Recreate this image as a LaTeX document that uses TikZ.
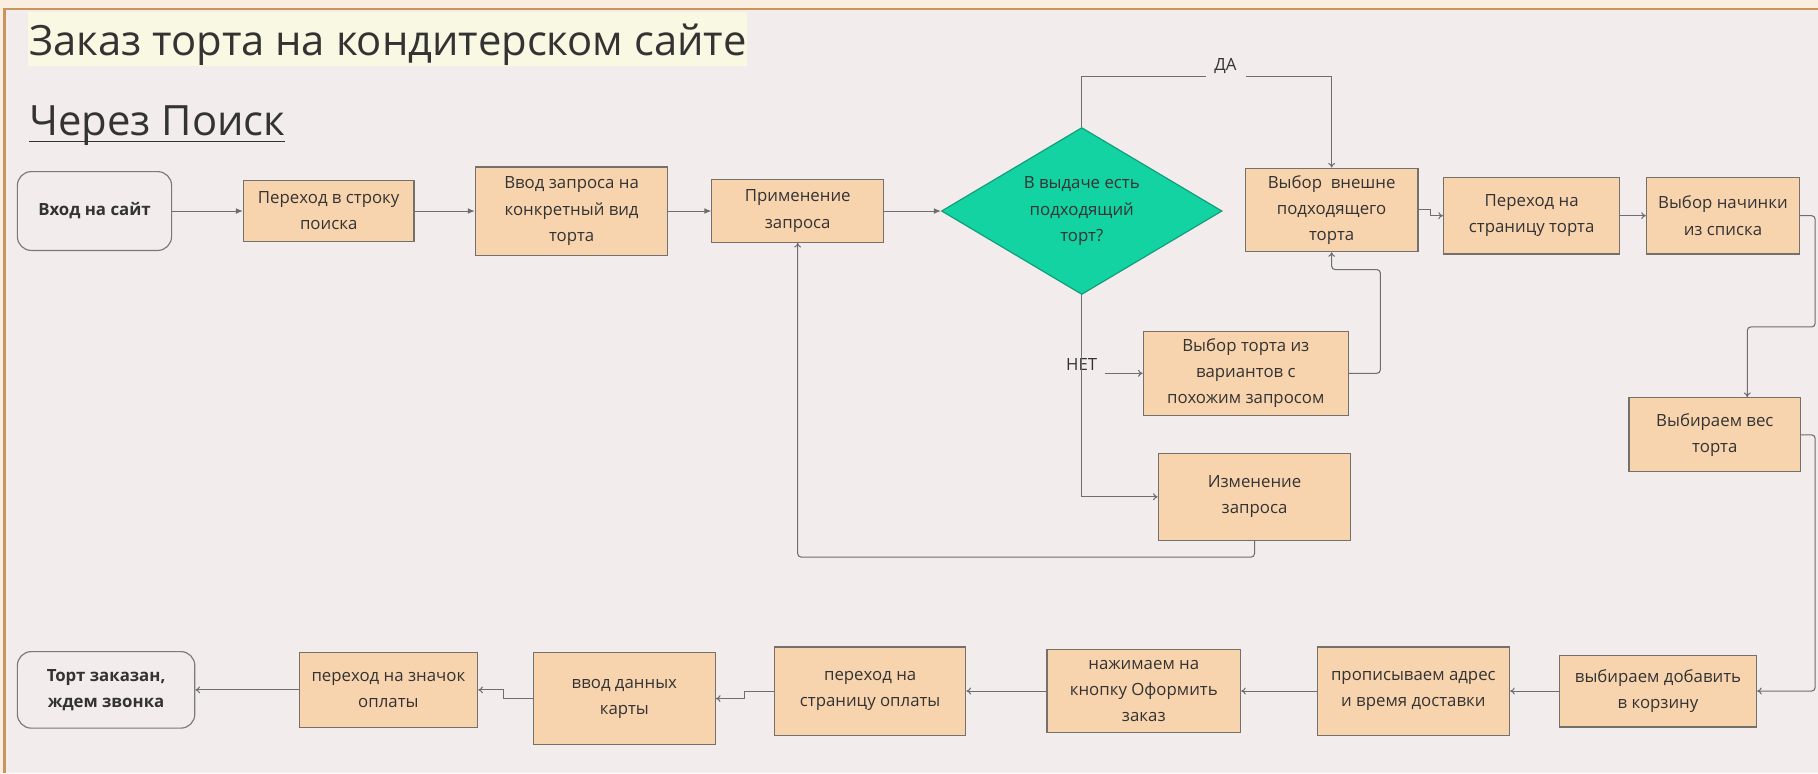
\documentclass[tikz,border=0pt]{standalone}
\usepackage{fontspec}
\setmainfont{Open Sans}
\usetikzlibrary{shapes.geometric,arrows.meta}

\definecolor{cream}{HTML}{FAEEE0}
\definecolor{canvas}{HTML}{F2ECEC}
\definecolor{framec}{HTML}{C8965C}
\definecolor{hilite}{HTML}{F9F8E3}
\definecolor{peach}{HTML}{F8D4AE}
\definecolor{boxline}{HTML}{74706C}
\definecolor{termline}{HTML}{7A7A7A}
\definecolor{mint}{HTML}{12D3A1}
\definecolor{mintline}{HTML}{0F9E79}
\definecolor{wire}{HTML}{6E6E6E}
\definecolor{ink}{HTML}{333333}

\newcommand\boxfont{\fontsize{14.5}{22.5}\selectfont}

\tikzset{
  box/.style={draw=boxline, line width=1pt, fill=peach, align=center, inner sep=2pt, text=ink, font=\boxfont},
  term/.style={draw=termline, line width=1pt, fill=canvas, rounded corners=12pt, align=center, text=ink, font=\boxfont\bfseries},
  conn/.style={draw=wire, line width=0.9pt, -{To[length=4pt,width=6pt]}},
  connf/.style={draw=wire, line width=0.9pt, -{Latex[length=6pt,width=5pt]}},
  plain/.style={draw=wire, line width=0.9pt},
}

\begin{document}
\begin{tikzpicture}[x=1pt,y=-1pt]
\useasboundingbox (0,0) rectangle (1568,667);
\fill[cream] (0,0) rectangle (1568,667);
\fill[canvas] (4,8) rectangle (1568,667);
\draw[framec, line width=2pt] (4,667) -- (4,8) -- (1568,8);

\fill[hilite] (24,10) rectangle (644,57);
\node[anchor=base west, inner sep=0pt, text=ink, font=\fontsize{36}{40}\selectfont] (title) at (25,48) {Заказ торта на кондитерском сайте};
\node[anchor=base west, inner sep=0pt, text=ink, font=\fontsize{36}{40}\selectfont] (sub) at (25,117) {Через Поиск};
\draw[ink, line width=1.6pt] ([yshift=-5pt]sub.base west) -- ([yshift=-5pt]sub.base east);

\node[term, minimum width=133pt, minimum height=68pt] (start) at (81.5,182) {Вход на сайт};
\node[box, minimum width=147pt, minimum height=52pt] (find) at (283.5,182) {Переход в строку\\поиска};
\node[box, minimum width=166pt, minimum height=76pt] (query) at (493,182) {Ввод запроса на\\конкретный вид\\торта};
\node[box, minimum width=148pt, minimum height=54pt] (apply) at (688,182) {Применение\\запроса};
\node[diamond, draw=mintline, line width=1pt, fill=mint, aspect=1.68, inner sep=0pt, minimum width=242pt, minimum height=144pt, align=center, text=ink, font=\boxfont] (dia) at (933,182) {В выдаче есть\\подходящий\\торт?};
\node[box, minimum width=149pt, minimum height=72pt] (look) at (1148.5,181) {Выбор~~внешне\\подходящего\\торта};
\node[box, minimum width=152pt, minimum height=66pt] (page) at (1321,186) {Переход на\\страницу торта};
\node[box, minimum width=132pt, minimum height=66pt] (fill) at (1486,186) {Выбор начинки\\из списка};
\node[box, minimum width=177pt, minimum height=72pt] (alike) at (1074.5,322) {Выбор торта из\\вариантов с\\похожим запросом};
\node[box, minimum width=166pt, minimum height=75pt] (change) at (1082,428.5) {Изменение\\запроса};
\node[box, minimum width=148pt, minimum height=64pt] (weight) at (1479,375) {Выбираем вес\\торта};

\node[box, minimum width=170pt, minimum height=62pt] (cart) at (1430,596) {выбираем добавить\\в корзину};
\node[box, minimum width=166pt, minimum height=76pt] (addr) at (1219,596) {прописываем адрес\\и время доставки};
\node[box, minimum width=167pt, minimum height=71pt] (order) at (986.5,596) {нажимаем на\\кнопку Оформить\\заказ};
\node[box, minimum width=165pt, minimum height=76pt] (paypage) at (750.5,596) {переход на\\страницу оплаты};
\node[box, minimum width=157pt, minimum height=79pt] (card) at (538.5,602.5) {ввод данных\\карты};
\node[box, minimum width=154pt, minimum height=65pt] (payicon) at (335,595) {переход на значок\\оплаты};
\node[term, minimum width=153pt, minimum height=66pt] (done) at (91.5,595) {Торт заказан,\\ждем звонка};

\node[text=ink, font=\boxfont, inner sep=1pt] (yes) at (1057,57) {ДА};
\node[text=ink, font=\boxfont, inner sep=1pt] (no) at (933,314) {НЕТ};
\coordinate (yes1) at (1040,66);
\coordinate (yes2) at (1075,66);
\coordinate (noarr) at (953,322);

\draw[connf] (start) -- (find);
\draw[connf] (find) -- (query);
\draw[connf] (query) -- (apply);
\draw[connf] (apply) -- (dia);

\draw[plain] (dia.north) |- (yes1);
\draw[conn] (yes2) -| (look.north);
\draw[conn] (dia.south) |- (change.west);
\draw[conn] (noarr) -- (alike.west);
\draw[conn, rounded corners=3pt] (alike.east) -- ++(27,0) |- ([yshift=-15pt]look.south) -- (look.south);
\draw[conn, rounded corners=3pt] (change.south) -- ++(0,14) -| (apply.south);

\draw[conn] (look.east) -- ++(10,0) |- (page.west);
\draw[conn] (page) -- (fill);
\draw[conn, rounded corners=3pt] (fill.east) -- ++(13,0) |- (1507,282) -- (1507,0 |- weight.north);
\draw[conn, rounded corners=3pt] (weight.east) -- ++(12,0) |- (cart.east);

\draw[conn] (cart) -- (addr);
\draw[conn] (addr) -- (order);
\draw[conn] (order) -- (paypage);
\draw[conn] (paypage.west) -- ++(-25,0) |- (card.east);
\draw[conn] (card.west) -- ++(-25,0) |- (payicon.east);
\draw[conn] (payicon) -- (done);
\end{tikzpicture}
\end{document}
